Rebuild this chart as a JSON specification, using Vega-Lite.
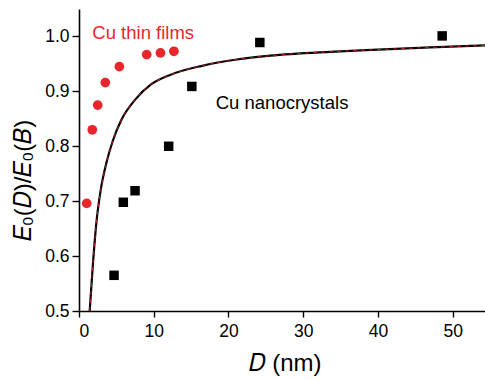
{
  "$schema": "https://vega.github.io/schema/vega-lite/v6.json",
  "width": 411,
  "height": 302,
  "autosize": "none",
  "padding": {"left": 79, "top": 9, "right": 0, "bottom": 69},
  "config": {
    "view": {"stroke": null},
    "font": "Liberation Sans",
    "axis": {
      "grid": false,
      "domainColor": "black",
      "domainWidth": 1.6,
      "tickColor": "black",
      "tickWidth": 1.4,
      "labelColor": "black",
      "labelFont": "Liberation Sans",
      "labelFontSize": 17.5,
      "titleFont": "Liberation Sans",
      "titleFontSize": 24,
      "titleFontWeight": "normal",
      "titleColor": "black"
    }
  },
  "datasets": {
    "curve": [
      {"D": 1.43, "E": 0.50}, {"D": 1.87, "E": 0.587}, {"D": 2.32, "E": 0.66}, {"D": 2.9, "E": 0.72},
      {"D": 3.65, "E": 0.769}, {"D": 4.55, "E": 0.811}, {"D": 5.66, "E": 0.848}, {"D": 7.46, "E": 0.884},
      {"D": 9.68, "E": 0.913}, {"D": 12.2, "E": 0.93}, {"D": 16.6, "E": 0.947}, {"D": 21.1, "E": 0.958},
      {"D": 25.6, "E": 0.965}, {"D": 33.6, "E": 0.972}, {"D": 40, "E": 0.976}, {"D": 47, "E": 0.98},
      {"D": 55, "E": 0.984}
    ],
    "films": [
      {"D": 1.03, "E": 0.696}, {"D": 1.78, "E": 0.83}, {"D": 2.5, "E": 0.875}, {"D": 3.52, "E": 0.916},
      {"D": 5.4, "E": 0.945}, {"D": 9.06, "E": 0.967}, {"D": 10.9, "E": 0.97}, {"D": 12.7, "E": 0.973}
    ],
    "nano": [
      {"D": 4.69, "E": 0.565}, {"D": 5.93, "E": 0.698}, {"D": 7.5, "E": 0.719}, {"D": 12.0, "E": 0.8},
      {"D": 15.1, "E": 0.909}, {"D": 24.2, "E": 0.989}, {"D": 48.6, "E": 1.001}
    ],
    "labels": [
      {"D": 1.78, "E": 1.007, "text": "Cu thin films", "series": "films"},
      {"D": 18.3, "E": 0.879, "text": "Cu nanocrystals", "series": "nano"}
    ]
  },
  "layer": [
    {
      "data": {"name": "curve"},
      "mark": {"type": "line", "color": "black", "strokeWidth": 2.2, "interpolate": "monotone", "clip": true},
      "encoding": {
        "x": {
          "field": "D", "type": "quantitative",
          "scale": {"domain": [0, 55], "nice": false, "zero": false},
          "axis": {
            "title": "𝐷 (nm)",
            "values": [0, 5, 10, 15, 20, 25, 30, 35, 40, 45, 50, 55],
            "labelExpr": "datum.value % 10 === 0 ? datum.label : ''",
            "tickSize": {"condition": {"test": "datum.value % 10 === 0", "value": 6}, "value": 4},
            "labelPadding": 5,
            "titlePadding": 12
          }
        },
        "y": {
          "field": "E", "type": "quantitative",
          "scale": {"domain": [0.5, 1.05], "nice": false, "zero": false},
          "axis": {
            "title": "𝐸₀(𝐷)/𝐸₀(𝐵)",
            "titleY": 171,
            "values": [0.5, 0.55, 0.6, 0.65, 0.7, 0.75, 0.8, 0.85, 0.9, 0.95, 1.0, 1.05],
            "labelExpr": "abs(datum.value * 10 - round(datum.value * 10)) < 0.001 ? format(datum.value, '.1f') : ''",
            "tickSize": {"condition": {"test": "abs(datum.value * 10 - round(datum.value * 10)) < 0.001", "value": 7}, "value": 4},
            "labelPadding": 3,
            "titlePadding": 9
          }
        }
      }
    },
    {
      "data": {"name": "curve"},
      "mark": {"type": "line", "color": "#e8262c", "strokeWidth": 0.8, "strokeDash": [4, 4], "interpolate": "monotone", "clip": true},
      "encoding": {
        "x": {"field": "D", "type": "quantitative"},
        "y": {"field": "E", "type": "quantitative"}
      }
    },
    {
      "data": {"name": "films"},
      "mark": {"type": "point", "shape": "circle", "filled": true, "color": "#e8262c", "opacity": 1, "size": 95},
      "encoding": {
        "x": {"field": "D", "type": "quantitative"},
        "y": {"field": "E", "type": "quantitative"}
      }
    },
    {
      "data": {"name": "nano"},
      "mark": {"type": "point", "shape": "square", "filled": true, "color": "black", "opacity": 1, "size": 90},
      "encoding": {
        "x": {"field": "D", "type": "quantitative"},
        "y": {"field": "E", "type": "quantitative"}
      }
    },
    {
      "data": {"name": "labels"},
      "mark": {"type": "text", "align": "left", "baseline": "middle", "fontSize": 18.5, "font": "Liberation Sans"},
      "encoding": {
        "x": {"field": "D", "type": "quantitative"},
        "y": {"field": "E", "type": "quantitative"},
        "text": {"field": "text"},
        "color": {"field": "series", "type": "nominal", "scale": {"domain": ["films", "nano"], "range": ["#e8262c", "black"]}, "legend": null}
      }
    }
  ]
}
